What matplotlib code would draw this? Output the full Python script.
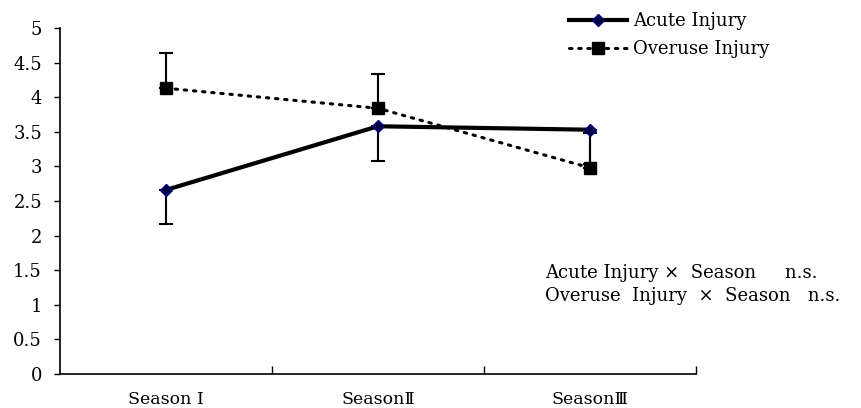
import matplotlib.pyplot as plt
from matplotlib.ticker import FixedLocator

plt.rcParams['font.family'] = ['DejaVu Serif', 'Noto Sans CJK JP']

seasons = ["Season Ⅰ", "SeasonⅡ", "SeasonⅢ"]
acute = [2.66, 3.58, 3.53]
overuse = [4.13, 3.84, 2.98]
# one-sided error bars: acute drawn downward, overuse drawn upward
acute_err_low = [0.49, 0.50, 0.50]
overuse_err_up = [0.51, 0.50, 0.50]

x = list(range(len(seasons)))

fig = plt.figure(figsize=(8.61, 4.08), dpi=100)
ax = fig.add_axes([60 / 861, 34 / 408, 636 / 861, 346 / 408])

ax.errorbar(x, acute, yerr=[acute_err_low, [0] * 3], fmt="none", ecolor="black",
            elinewidth=1.5, capsize=5, capthick=1.5, zorder=2)
ax.errorbar(x, overuse, yerr=[[0] * 3, overuse_err_up], fmt="none", ecolor="black",
            elinewidth=1.5, capsize=5, capthick=1.5, zorder=2)

ax.plot(x, acute, color="black", linewidth=3, marker="D", markersize=6,
        markerfacecolor="#000040", markeredgecolor="#000080", label="Acute Injury", zorder=3)
ax.plot(x, overuse, color="black", linewidth=2.2, linestyle=(0, (0.8, 2.2)),
        dash_capstyle="round", marker="s", markersize=9, markerfacecolor="black",
        markeredgecolor="black", label="Overuse Injury", zorder=3)

ax.set_xlim(-0.5, 2.5)
ax.set_ylim(0, 5)
ax.set_yticks([0, 0.5, 1, 1.5, 2, 2.5, 3, 3.5, 4, 4.5, 5])
ax.set_yticklabels(["0", "0.5", "1", "1.5", "2", "2.5", "3", "3.5", "4", "4.5", "5"])

# boundary ticks between seasons, labels centred on each season
ax.xaxis.set_major_locator(FixedLocator([0.5, 1.5, 2.5]))
ax.xaxis.set_major_formatter(plt.NullFormatter())
ax.xaxis.set_minor_locator(FixedLocator(x))
ax.set_xticklabels(seasons, minor=True)
ax.tick_params(axis="x", which="major", direction="in", length=6, width=1)
ax.tick_params(axis="x", which="minor", length=0, pad=12, labelsize=12.5)
ax.tick_params(axis="y", direction="out", length=4, width=1, labelsize=13, pad=9)

ax.spines["top"].set_visible(False)
ax.spines["right"].set_visible(False)
for s in ("left", "bottom"):
    ax.spines[s].set_linewidth(1.2)

fig.legend(loc="upper left", bbox_to_anchor=(560 / 861, 1 - 3 / 408), frameon=False,
           fontsize=13, handlelength=3.2, handletextpad=0.35, labelspacing=0.55,
           borderaxespad=0.1)

fig.text(545 / 861, 1 - 273 / 408, "Acute Injury ×  Season     n.s.", fontsize=13,
         va="center", ha="left")
fig.text(545 / 861, 1 - 296 / 408, "Overuse  Injury  ×  Season   n.s.", fontsize=13,
         va="center", ha="left")

fig.savefig("out.png", dpi=100)
